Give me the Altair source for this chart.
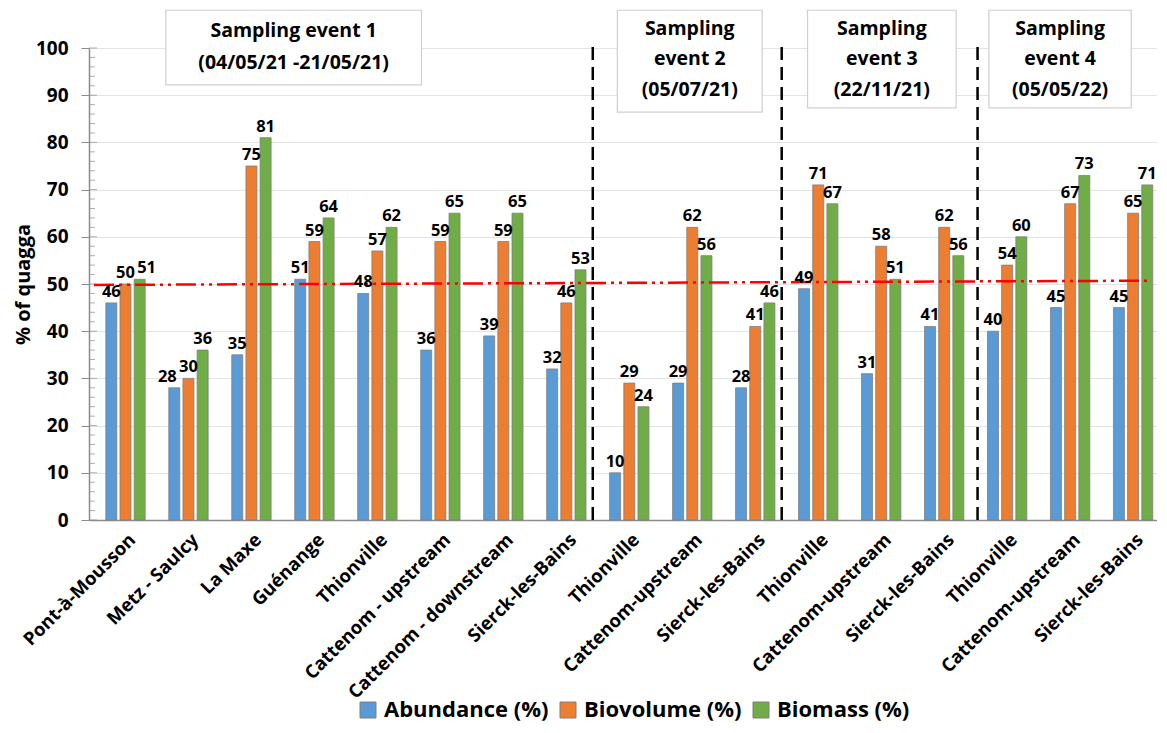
import json
import altair as alt
import pandas as pd

FONT = "Open Sans"

sites = ["Pont-à-Mousson", "Metz - Saulcy", "La Maxe", "Guénange", "Thionville",
         "Cattenom - upstream", "Cattenom - downstream", "Sierck-les-Bains",
         "Thionville", "Cattenom-upstream", "Sierck-les-Bains",
         "Thionville", "Cattenom-upstream", "Sierck-les-Bains",
         "Thionville", "Cattenom-upstream", "Sierck-les-Bains"]
abundance = [46, 28, 35, 51, 48, 36, 39, 32, 10, 29, 28, 49, 31, 41, 40, 45, 45]
biovolume = [50, 30, 75, 59, 57, 59, 59, 46, 29, 62, 41, 71, 58, 62, 54, 67, 65]
biomass = [51, 36, 81, 64, 62, 65, 65, 53, 24, 56, 46, 67, 51, 56, 60, 73, 71]
series_names = ["Abundance (%)", "Biovolume (%)", "Biomass (%)"]
series_colors = ["#5B9BD5", "#ED7D31", "#70AD47"]
series_offsets = [-0.225, 0.0, 0.225]

# value labels nudged sideways (site index, series index) -> shift, as in the original
label_nudges = {(0, 2): 0.11, (1, 0): -0.11}

y_major_ticks = [0, 10, 20, 30, 40, 50, 60, 70, 80, 90, 100]
y_minor_ticks = [v for v in range(0, 101, 2) if v % 10]

# 50 % reference line (slightly sloped as in the original)
threshold_x = [-0.5, 16.24]
threshold_y = [49.8, 50.7]

# vertical separators between sampling events
separator_x = [7.42, 10.42, 13.53]
separator_top = 101.5

# annotation boxes
box_x1 = [0.64, 7.81, 10.83, 13.71]
box_x2 = [4.70, 10.11, 13.19, 15.97]
box_y1 = [92.2, 86.4, 87.3, 87.3]
box_y2 = [108.0, 108.0, 108.0, 108.0]
box_lines = [["Sampling event 1", "(04/05/21 -21/05/21)"],
             ["Sampling", "event 2", "(05/07/21)"],
             ["Sampling", "event  3", "(22/11/21)"],
             ["Sampling", "event  4", "(05/05/22)"]]
line_y_two = [103.6, 96.8]
line_y_three = [104.0, 97.7, 91.1]

rows = []
for i in range(len(sites)):
    for k, vals in enumerate([abundance, biovolume, biomass]):
        p = i + series_offsets[k]
        rows.append({"pos": p, "lpos": p + label_nudges.get((i, k), 0.0),
                     "value": vals[i], "series": series_names[k]})
df = pd.DataFrame(rows)

thr_df = pd.DataFrame({"pos": [threshold_x[0]], "pos2": [threshold_x[1]],
                       "value": [threshold_y[0]], "value2": [threshold_y[1]]})
sep_df = pd.DataFrame({"pos": separator_x, "value": [0] * len(separator_x),
                       "value2": [separator_top] * len(separator_x)})
box_df = pd.DataFrame({"pos": box_x1, "pos2": box_x2, "value": box_y1, "value2": box_y2})
txt_rows = []
for b, lines in enumerate(box_lines):
    ys = line_y_two if len(lines) == 2 else line_y_three
    for j, t in enumerate(lines):
        txt_rows.append({"pos": (box_x1[b] + box_x2[b]) / 2, "value": ys[j], "t": t})
txt_df = pd.DataFrame(txt_rows)
minor_df = pd.DataFrame({"value": y_minor_ticks})
major_df = pd.DataFrame({"value": y_major_ticks})

x_scale = alt.Scale(domain=[-0.5, 16.3], nice=False, zero=False)
y_scale = alt.Scale(domain=[0, 100], nice=False)

label_expr = json.dumps(sites, ensure_ascii=False) + "[datum.value]"

X = alt.X("pos:Q", scale=x_scale, title=None,
          axis=alt.Axis(values=list(range(len(sites))), labelExpr=label_expr, title=None,
                        grid=False, ticks=False, labelAngle=315, labelFontSize=18.5,
                        labelFontWeight="bold", labelFont=FONT, labelColor="black",
                        domainColor="#8c8c8c", domainWidth=1.5, labelPadding=10,
                        labelLimit=400, labelFlush=False, labelOverlap=False,
                        labelBound=False))
Y = alt.Y("value:Q", scale=y_scale, title="% of quagga",
          axis=alt.Axis(values=y_major_ticks, title="% of quagga",
                        titleFont=FONT, titleFontSize=20, titleFontWeight="bold",
                        titleColor="black", titlePadding=2,
                        labelFont=FONT, labelFontSize=19, labelFontWeight="bold",
                        labelColor="black", labelPadding=13, tickSize=8,
                        tickColor="#8c8c8c", domainColor="#8c8c8c", domainWidth=1.5,
                        gridColor="#e3e3e3", grid=True))

bars = alt.Chart(df).mark_bar(orient="vertical", size=11, stroke="#7f7f7f", strokeWidth=0.8).encode(
    x=X, y=Y,
    color=alt.Color("series:N", scale=alt.Scale(domain=series_names, range=series_colors),
                    legend=alt.Legend(title=None, orient="none", direction="horizontal",
                                      legendX=268, legendY=651, symbolType="square",
                                      symbolSize=256, symbolStrokeColor="#7f7f7f",
                                      symbolStrokeWidth=1, labelFont=FONT,
                                      labelFontSize=22, labelFontWeight="bold",
                                      labelColor="black", columnPadding=8,
                                      labelOffset=5, labelLimit=400)),
)

minor_ticks = alt.Chart(minor_df).mark_tick(orient="horizontal", size=6, thickness=1,
                                            color="#8c8c8c").encode(
    x=alt.value(3), y=Y,
)
major_ticks = alt.Chart(major_df).mark_tick(orient="horizontal", size=8, thickness=1,
                                            color="#8c8c8c").encode(
    x=alt.value(4), y=Y,
)

labels = alt.Chart(df).mark_text(baseline="bottom", dy=-3, fontSize=16.5, fontWeight="bold",
                                 font=FONT, color="black").encode(
    x=alt.X("lpos:Q", scale=x_scale), y=Y, text=alt.Text("value:Q"),
)

thr = alt.Chart(thr_df).mark_rule(color="#FF0000", strokeWidth=2.5,
                                  strokeDash=[20, 5, 3, 5, 3, 5]).encode(
    x=X, x2="pos2:Q", y=Y, y2="value2:Q",
)

seps = alt.Chart(sep_df).mark_rule(color="black", strokeWidth=2.5, strokeDash=[13, 7]).encode(
    x=X, y=Y, y2="value2:Q",
)

boxes = alt.Chart(box_df).mark_rect(fill="white", stroke="#cfcfcf", strokeWidth=1.2).encode(
    x=X, x2="pos2:Q", y=Y, y2="value2:Q",
)

box_text = alt.Chart(txt_df).mark_text(fontSize=19.5, fontWeight="bold", font=FONT,
                                       color="black", baseline="middle", align="center").encode(
    x=X, y=Y, text="t:N",
)

chart = alt.layer(bars, minor_ticks, major_ticks, thr, seps, labels, boxes, box_text).properties(
    width=1068, height=472,
    padding={"top": 1, "left": 5, "right": 0, "bottom": 4},
    background="white",
).configure_view(stroke="transparent")

chart.save("out.html", embed_options={"renderer": "svg", "actions": False})
